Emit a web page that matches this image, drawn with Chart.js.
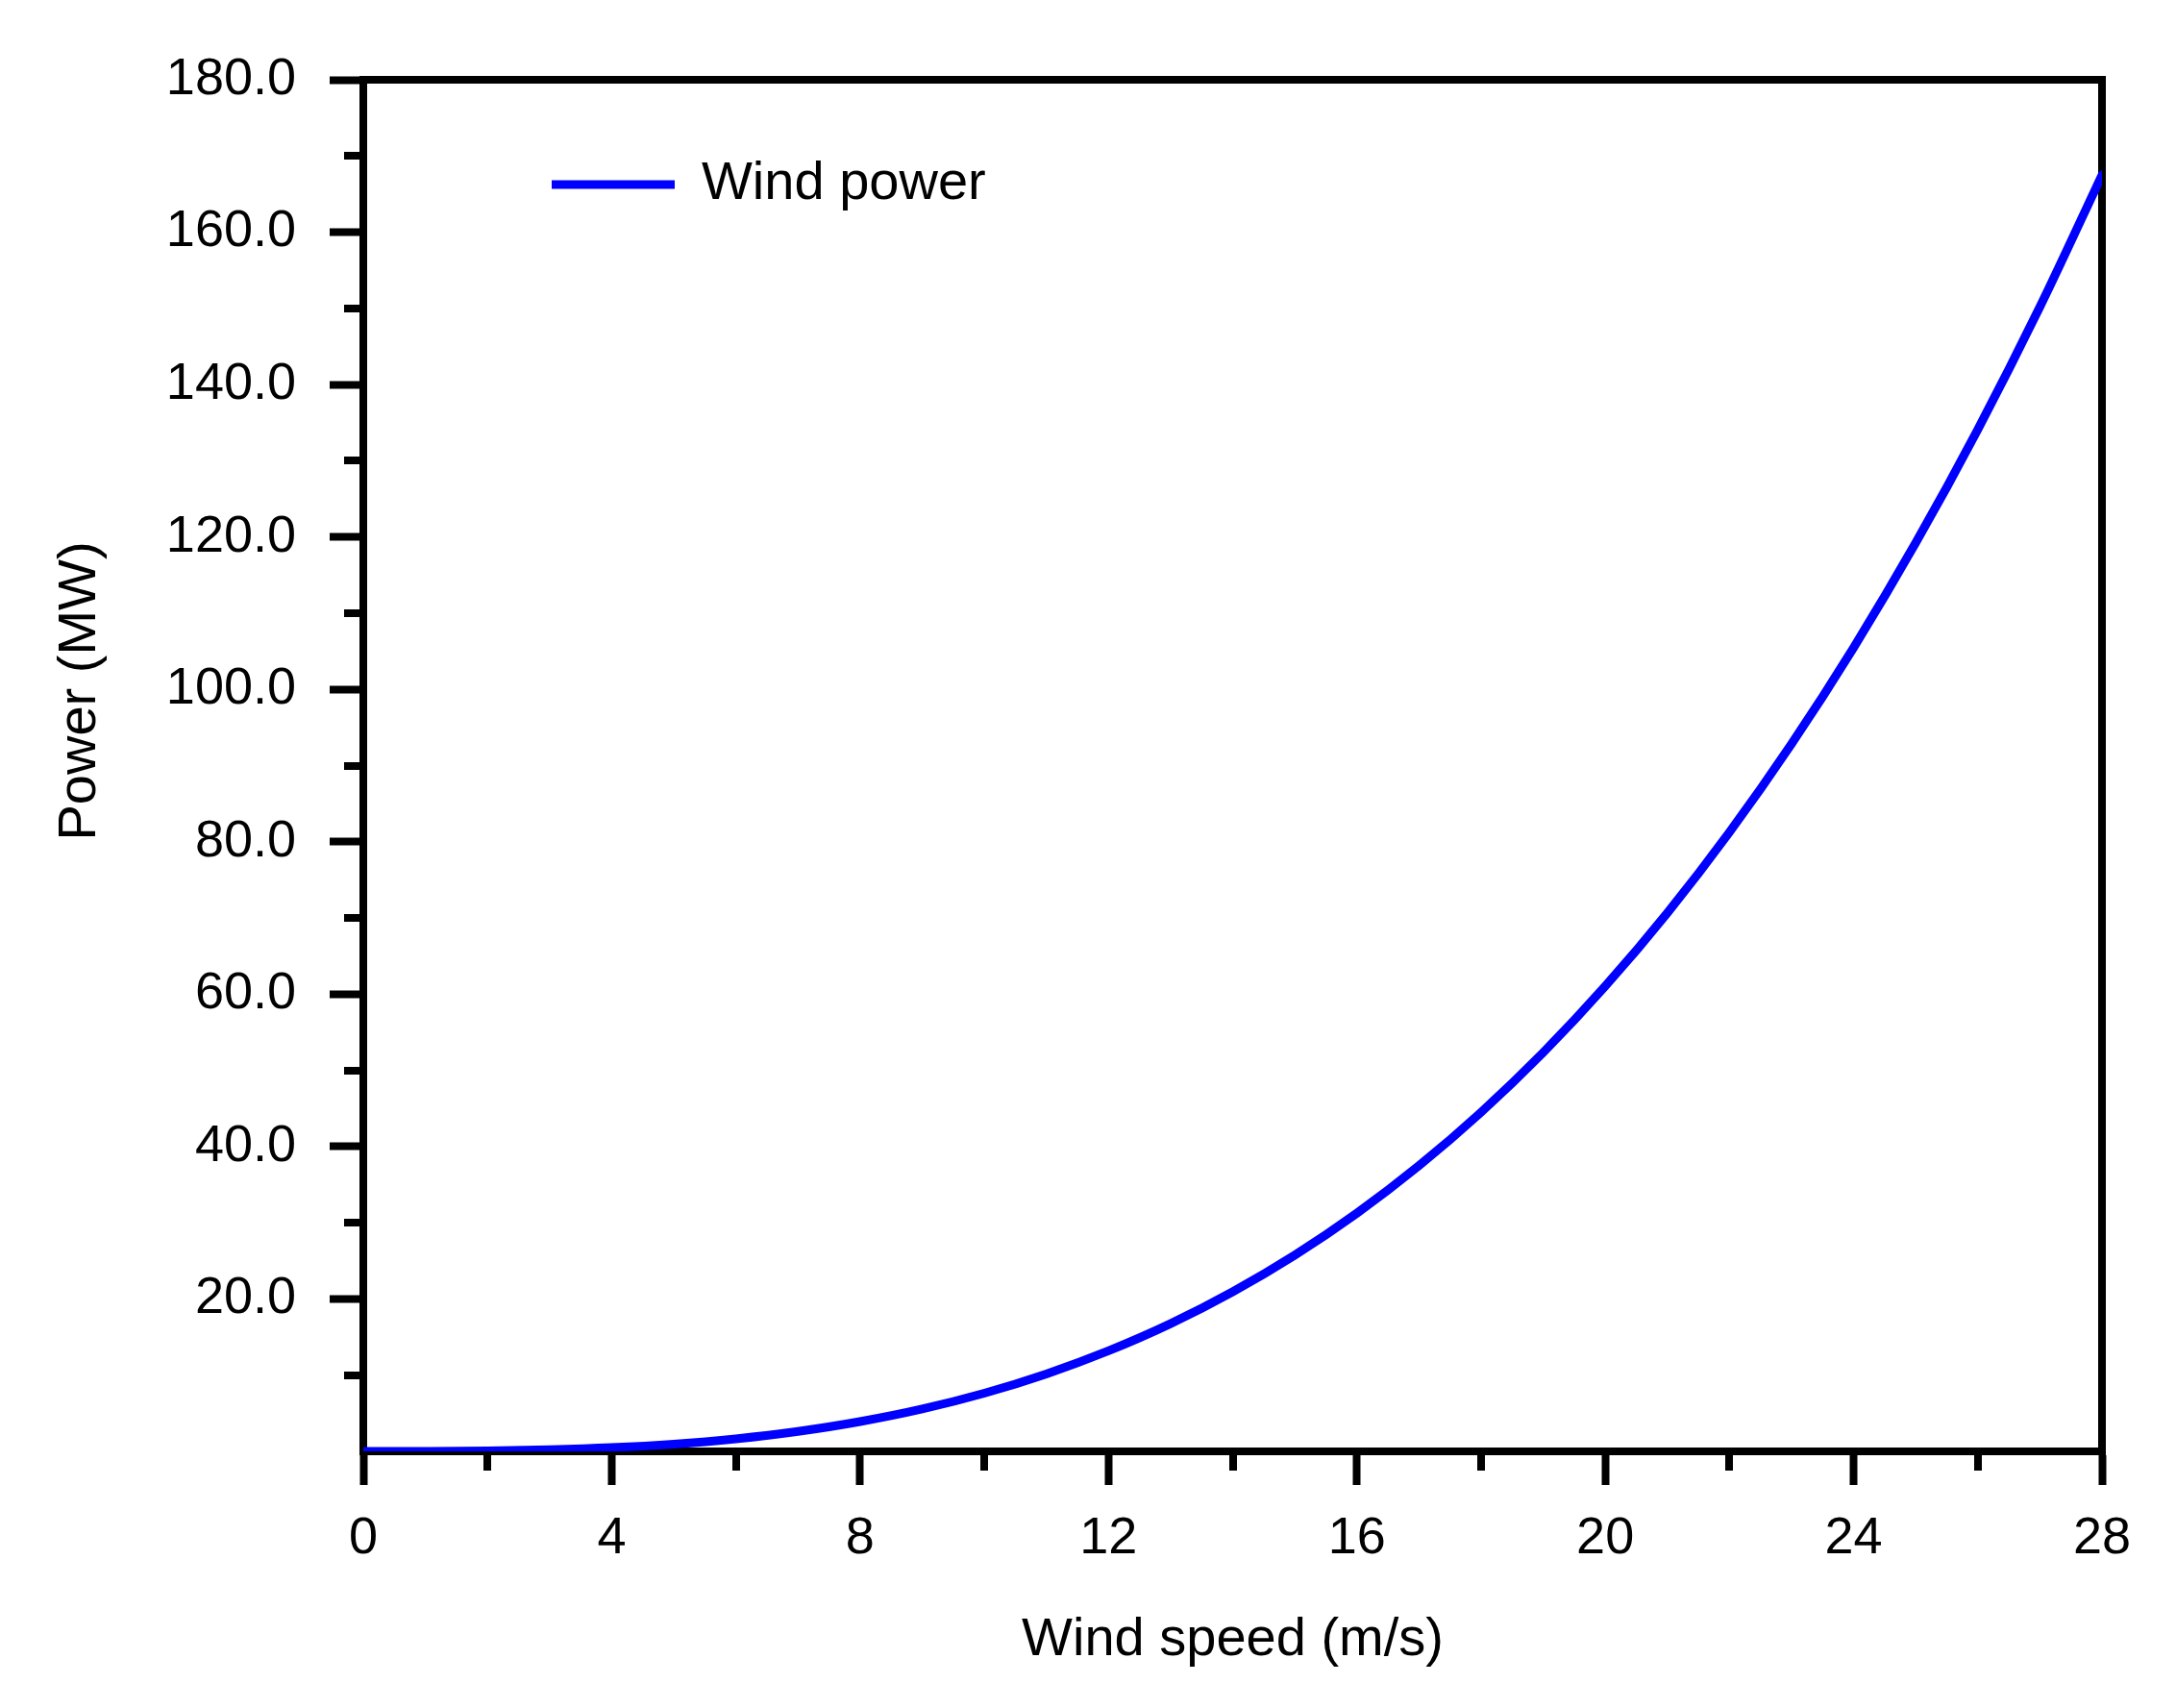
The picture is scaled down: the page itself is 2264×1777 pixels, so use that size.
<!DOCTYPE html>
<html>
<head>
<meta charset="utf-8">
<script src="https://cdn.jsdelivr.net/npm/chart.js@4.4.0/dist/chart.umd.min.js"></script>
<style>
html,body{margin:0;padding:0;background:#ffffff;}
#wrap{position:relative;width:2264px;height:1777px;}
</style>
</head>
<body>
<div id="wrap"><canvas id="c"></canvas></div>
<script>
// ---- data ----
const windSpeed = [0,1,2,3,4,5,6,7,8,9,10,11,12,13,14,15,16,17,18,19,20,21,22,23,24,25,26,27,28];
const windPower = [0,0.01,0.06,0.21,0.49,0.95,1.65,2.62,3.91,5.56,7.63,10.16,13.19,16.76,20.94,25.75,31.25,37.49,44.50,52.33,61.04,70.66,81.25,92.84,105.48,119.22,134.11,150.19,167.50];
const seriesLabel = 'Wind power';
const xTickValues = [0,4,8,12,16,20,24,28];
const xTickLabels = ['0','4','8','12','16','20','24','28'];
const xMinorTicks = [2,6,10,14,18,22,26];
const yTickValues = [20,40,60,80,100,120,140,160,180];
const yTickLabels = ['20.0','40.0','60.0','80.0','100.0','120.0','140.0','160.0','180.0'];
const yMinorTicks = [10,30,50,70,90,110,130,150,170];
const xTitle = 'Wind speed (m/s)';
const yTitle = 'Power (MW)';

const FONT = '"Liberation Sans", Arial, sans-serif';
const AXW = 8;          // axis line width
const MAJOR = 35;       // major tick length
const MINOR = 16;       // minor tick length
const LEGEND_PAD = 10;

const framePlugin = {
  id: 'framePlugin',
  afterLayout(chart) {
    const lg = chart.legend;
    if (lg) {
      lg.left = chart.chartArea.left + 196 - LEGEND_PAD;
      lg.top = chart.chartArea.top + 81 - LEGEND_PAD;
    }
  },
  beforeDatasetsDraw(chart) {
    const {ctx, chartArea: a, scales} = chart;
    ctx.save();
    ctx.strokeStyle = '#000';
    ctx.lineWidth = AXW;
    ctx.lineCap = 'butt';
    // top & right frame
    ctx.beginPath();
    ctx.moveTo(a.left - AXW/2, a.top);
    ctx.lineTo(a.right + AXW/2, a.top);
    ctx.moveTo(a.right, a.top - AXW/2);
    ctx.lineTo(a.right, a.bottom + AXW/2);
    ctx.stroke();
    // minor ticks
    ctx.beginPath();
    xMinorTicks.forEach(v => {
      const px = Math.round(scales.x.getPixelForValue(v));
      ctx.moveTo(px, a.bottom + AXW/2);
      ctx.lineTo(px, a.bottom + AXW/2 + MINOR);
    });
    yMinorTicks.forEach(v => {
      const py = Math.round(scales.y.getPixelForValue(v));
      ctx.moveTo(a.left - AXW/2, py);
      ctx.lineTo(a.left - AXW/2 - MINOR, py);
    });
    ctx.stroke();
    ctx.restore();
  },
  afterDraw(chart) {
    const {ctx} = chart;
    ctx.save();
    ctx.fillStyle = '#000';
    ctx.font = '56px ' + FONT;
    ctx.textAlign = 'center';
    ctx.textBaseline = 'middle';
    ctx.translate(84, 719);
    ctx.rotate(-Math.PI / 2);
    ctx.fillText(yTitle, 0, 0);
    ctx.restore();
  }
};

const points = windSpeed.map((s, i) => ({x: s, y: windPower[i]}));

new Chart(document.getElementById('c'), {
  type: 'line',
  data: {
    datasets: [{
      label: seriesLabel,
      data: points,
      borderColor: '#0000ff',
      backgroundColor: '#0000ff',
      borderWidth: 9,
      borderCapStyle: 'round',
      pointRadius: 0,
      fill: false,
      cubicInterpolationMode: 'monotone'
    }]
  },
  options: {
    responsive: true,
    maintainAspectRatio: false,
    animation: false,
    devicePixelRatio: 1,
    layout: {padding: {left: 0, right: 77, top: 83, bottom: 0}},
    plugins: {
      title: {display: false},
      tooltip: {enabled: false},
      legend: {
        display: true,
        position: 'chartArea',
        align: 'start',
        labels: {
          usePointStyle: true,
          pointStyle: 'line',
          pointStyleWidth: 128,
          padding: LEGEND_PAD,
          color: '#000',
          font: {family: FONT, size: 56}
        }
      }
    },
    scales: {
      x: {
        type: 'linear',
        min: 0, max: 28,
        afterFit(scale) { scale.height = 267; },
        afterBuildTicks(scale) { scale.ticks = xTickValues.map(v => ({value: v})); },
        ticks: {
          color: '#000',
          font: {family: FONT, size: 54},
          padding: 24,
          maxRotation: 0,
          autoSkip: false,
          callback: (v, i) => xTickLabels[i]
        },
        grid: {display: true, drawOnChartArea: false, drawTicks: true, tickLength: MAJOR, tickWidth: AXW, tickColor: '#000', color: '#000'},
        border: {display: true, width: AXW, color: '#000'},
        title: {display: true, text: xTitle, color: '#000', font: {family: FONT, size: 56}, padding: {top: 0, bottom: 37}}
      },
      y: {
        type: 'linear',
        min: 0, max: 180,
        afterFit(scale) { scale.width = 378; },
        afterBuildTicks(scale) { scale.ticks = yTickValues.map(v => ({value: v})); },
        ticks: {
          color: '#000',
          font: {family: FONT, size: 54},
          padding: 35,
          autoSkip: false,
          callback: (v, i) => yTickLabels[i]
        },
        grid: {display: true, drawOnChartArea: false, drawTicks: true, tickLength: MAJOR, tickWidth: AXW, tickColor: '#000', color: '#000'},
        border: {display: true, width: AXW, color: '#000'},
        title: {display: false}
      }
    }
  },
  plugins: [framePlugin]
});
</script>
</body>
</html>
